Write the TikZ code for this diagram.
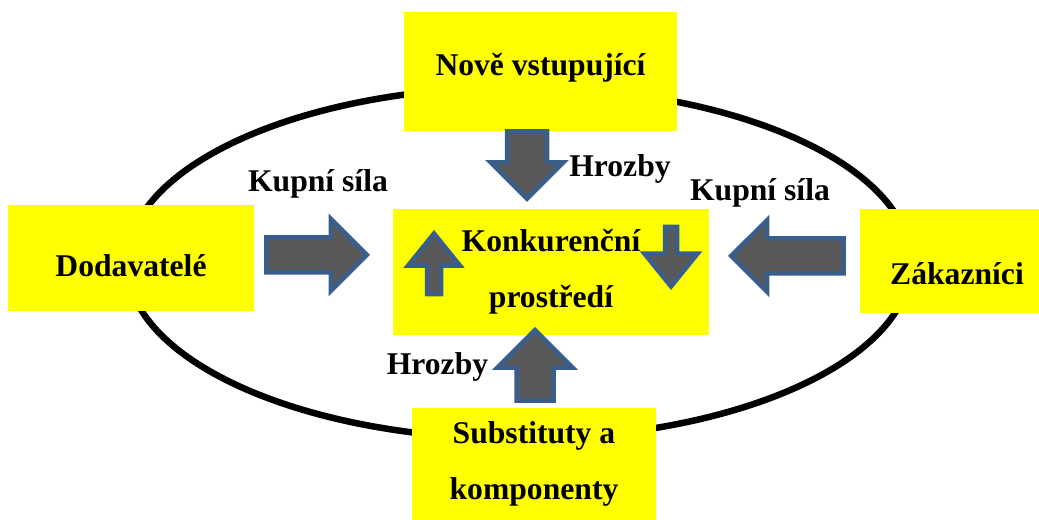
\documentclass[tikz,border=0pt]{standalone}
\usepackage{fontspec}
\setmainfont{Liberation Serif}
\usetikzlibrary{shapes.arrows}

\definecolor{boxyellow}{RGB}{255,255,0}
\definecolor{arrowgray}{RGB}{89,89,89}
\definecolor{arrowblue}{RGB}{58,94,140}

\tikzset{
  box/.style={fill=boxyellow, inner sep=0pt, align=center, font=\bfseries\fontsize{18}{31.8}\selectfont},
  lbl/.style={inner sep=0pt, anchor=base, font=\bfseries\fontsize{18}{31.8}\selectfont},
  blkarrow/.style n args={3}{single arrow, draw=arrowblue, fill=arrowgray, line width=0.09cm,
    inner xsep=0pt, inner ysep=#1, single arrow head extend=#2, minimum height=#3,
    single arrow head indent=0pt, anchor=tip}
}

\begin{document}
\begin{tikzpicture}
    \useasboundingbox (0,0) rectangle (20.78,10.40);

    % ring round the market
    \draw[line width=0.13cm] (10.38,5.14) ellipse [x radius=7.84, y radius=3.52];

    % the five forces
    \node[box, minimum width=5.46cm, minimum height=2.38cm, text height=0.5cm, text depth=0.32cm] (neu) at (10.81,8.97) {Nově vstupující};
    \node[box, minimum width=4.92cm, minimum height=2.12cm, text height=0.76cm, text depth=0pt] (dod) at (2.62,5.24) {Dodavatelé};
    \node[box, minimum width=6.32cm, minimum height=2.52cm] (konk) at (11.02,4.96) {Konkurenční\\prostředí};
    \node[box, minimum width=3.58cm, minimum height=2.08cm, text height=0.96cm, text depth=0pt] (zak) at (18.99,5.18) {\hspace*{0.3cm}Zákazníci};
    \node[box, minimum width=4.88cm, minimum height=2.24cm] (sub) at (10.68,1.12) {Substituty a\\komponenty};

    % block arrows
    \node[blkarrow={0.355cm}{0.33cm}{1.35cm}, rotate=-90] (thrneu) at (10.54,6.36) {};
    \node[blkarrow={0.325cm}{0.38cm}{1.41cm}, rotate=90] (thrsub) at (10.70,3.86) {};
    \node[blkarrow={0.305cm}{0.37cm}{2.01cm}] (buydod) at (7.40,5.30) {};
    \node[blkarrow={0.305cm}{0.37cm}{2.25cm}, rotate=180] (buyzak) at (14.56,5.28) {};
    \node[blkarrow={0.095cm}{0.38cm}{1.21cm}, single arrow tip angle=78, rotate=90] (rivup) at (8.68,5.80) {};
    \node[blkarrow={0.075cm}{0.41cm}{1.19cm}, single arrow tip angle=78, rotate=-90] (rivdown) at (13.42,4.60) {};

    % labels
    \node[lbl] (hrneu) at (12.40,6.86) {Hrozby};
    \node[lbl] (kupdod) at (6.36,6.56) {Kupní síla};
    \node[lbl] (kupzak) at (15.20,6.38) {Kupní síla};
    \node[lbl] (hrsub) at (8.75,2.90) {Hrozby};
\end{tikzpicture}
\end{document}
